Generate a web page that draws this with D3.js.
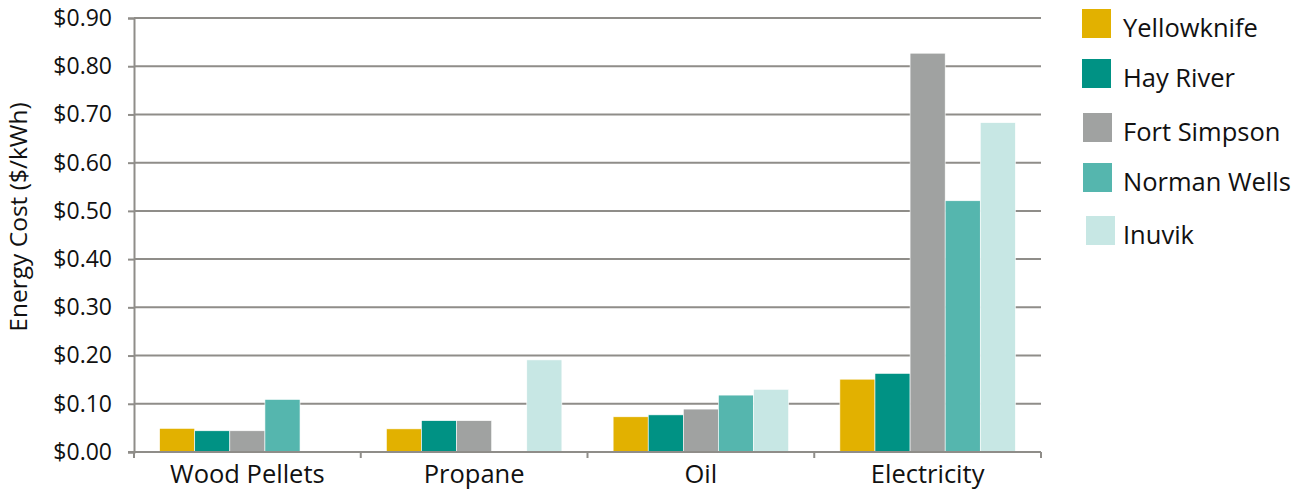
<!DOCTYPE html>
<html>
<head>
<meta charset="utf-8">
<script src="https://cdn.jsdelivr.net/npm/d3@7"></script>
<style>
  html, body { margin: 0; padding: 0; background: #fff; }
  svg { display: block; font-family: "Open Sans", sans-serif; }
</style>
</head>
<body>
<svg id="chart" width="1292" height="491"></svg>
<script>
// Energy cost per kWh by fuel type and community
const fuels = ["Wood Pellets", "Propane", "Oil", "Electricity"];
const communities = ["Yellowknife", "Hay River", "Fort Simpson", "Norman Wells", "Inuvik"];
const colors = ["#E2B100", "#009284", "#A0A2A1", "#55B6AE", "#C7E7E4"];

// one array per community, in fuel order (null = no value)
const yellowknife = [0.049, 0.048, 0.073, 0.151];
const hayRiver    = [0.044, 0.065, 0.077, 0.163];
const fortSimpson = [0.044, 0.065, 0.089, 0.827];
const normanWells = [0.109, null,  0.118, 0.521];
const inuvik      = [null,  0.191, 0.130, 0.683];
const seriesValues = [yellowknife, hayRiver, fortSimpson, normanWells, inuvik];

const yTicks = [0, 0.1, 0.2, 0.3, 0.4, 0.5, 0.6, 0.7, 0.8, 0.9];

const svg = d3.select("#chart");
const plot = { left: 134, right: 1041, top: 18, bottom: 452 };

const x0 = d3.scaleBand().domain(fuels).range([plot.left, plot.right]).padding(0);
const bw = x0.bandwidth();
const x1 = d3.scaleBand().domain(communities).range([bw * 0.113, bw * 0.887]).padding(0);
const y = d3.scaleLinear().domain([0, 0.9]).range([plot.bottom, plot.top]);

const gridColor = "#8F8D89";

// horizontal gridlines
svg.append("g")
  .selectAll("line")
  .data(yTicks.filter(d => d > 0))
  .join("line")
  .attr("x1", plot.left).attr("x2", plot.right)
  .attr("y1", d => y(d)).attr("y2", d => y(d))
  .attr("stroke", gridColor).attr("stroke-width", 2);

// bars
const bars = [];
fuels.forEach((f, i) => {
  communities.forEach((c, j) => {
    const v = seriesValues[j][i];
    if (v != null) bars.push({ fuel: f, community: c, value: v, color: colors[j] });
  });
});
svg.append("g")
  .selectAll("rect")
  .data(bars)
  .join("rect")
  .attr("x", d => x0(d.fuel) + x1(d.community))
  .attr("width", x1.bandwidth())
  .attr("y", d => y(d.value))
  .attr("height", d => y(0) - y(d.value))
  .attr("fill", d => d.color)
  .attr("stroke", "#fff").attr("stroke-width", 0.6);

// y axis
const yAxis = svg.append("g")
  .attr("transform", `translate(${plot.left},0)`)
  .call(d3.axisLeft(y).tickValues(yTicks).tickFormat(d => "$" + d.toFixed(2)).tickSize(6).tickPadding(16));
yAxis.select(".domain").attr("stroke", gridColor).attr("stroke-width", 2);
yAxis.selectAll(".tick line").attr("stroke", gridColor).attr("stroke-width", 2);
yAxis.selectAll(".tick text")
  .attr("font-size", 23).attr("fill", "#111").attr("font-family", "Open Sans, sans-serif");

// x axis with ticks at category boundaries
const xAxisG = svg.append("g");
xAxisG.append("line")
  .attr("x1", plot.left - 6).attr("x2", plot.right)
  .attr("y1", plot.bottom).attr("y2", plot.bottom)
  .attr("stroke", gridColor).attr("stroke-width", 2);
const bounds = fuels.map(f => x0(f)).concat([x0(fuels[fuels.length - 1]) + bw]);
xAxisG.selectAll("line.tk")
  .data(bounds)
  .join("line").attr("class", "tk")
  .attr("x1", d => d).attr("x2", d => d)
  .attr("y1", plot.bottom).attr("y2", plot.bottom + 6)
  .attr("stroke", gridColor).attr("stroke-width", 2);
xAxisG.selectAll("text")
  .data(fuels)
  .join("text")
  .attr("x", d => x0(d) + bw / 2)
  .attr("y", 483)
  .attr("text-anchor", "middle")
  .attr("font-size", 25.5)
  .attr("fill", "#111")
  .text(d => d);

// y axis title
svg.append("text")
  .attr("transform", `translate(27,217) rotate(-90)`)
  .attr("text-anchor", "middle")
  .attr("font-size", 24.5)
  .attr("fill", "#111")
  .text("Energy Cost ($/kWh)");

// legend
const legend = svg.append("g");
const legendTops = [9, 59, 113, 163, 216];
const legendX = [1082, 1082, 1083, 1083, 1086];
communities.forEach((c, j) => {
  legend.append("rect")
    .attr("x", legendX[j]).attr("y", legendTops[j])
    .attr("width", 29).attr("height", 29)
    .attr("fill", colors[j]);
  legend.append("text")
    .attr("x", 1123).attr("y", legendTops[j] + 28)
    .attr("font-size", 25.5)
    .attr("fill", "#111")
    .text(c);
});
</script>
</body>
</html>
